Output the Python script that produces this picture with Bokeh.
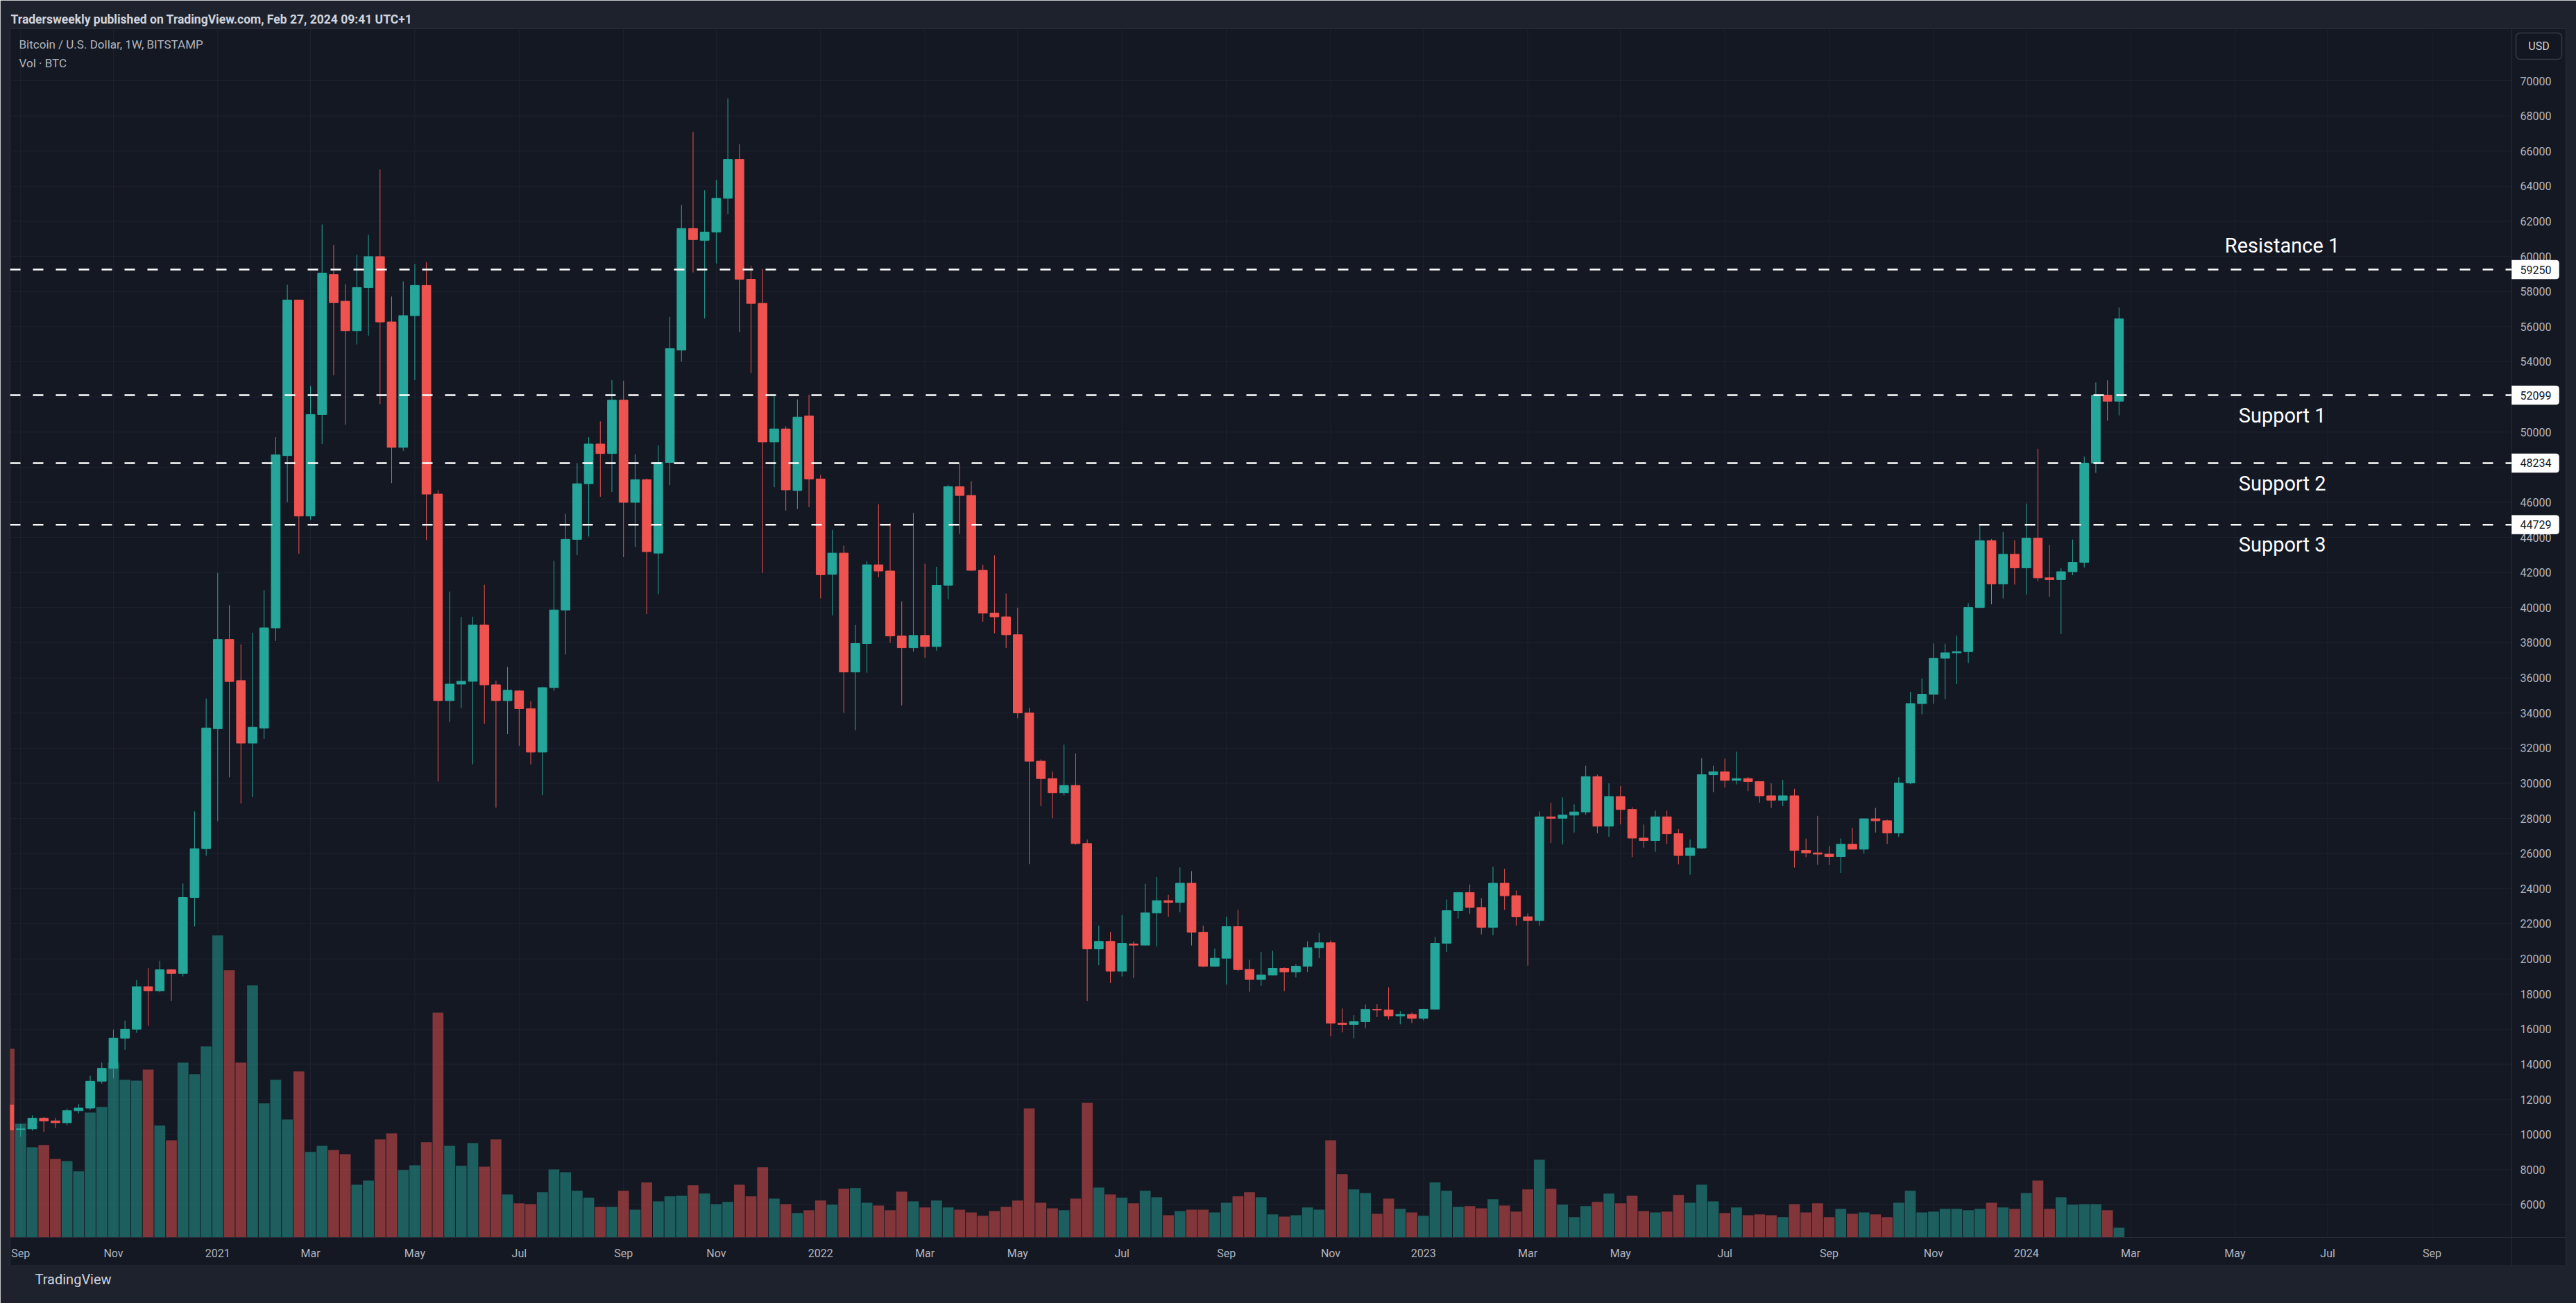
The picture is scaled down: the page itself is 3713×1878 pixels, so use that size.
from bokeh.plotting import figure
from bokeh.models import Range1d, LinearAxis, FixedTicker, Label, Title, Span, NumeralTickFormatter, ColumnDataSource
from bokeh.embed import file_html
from bokeh.resources import INLINE
from bokeh.core.properties import value

# ---------------- data (weekly bars, week 0 = 2020-08-31) ----------------
open_ = [11680, 10280, 10330, 10930, 10770, 10670, 11360, 11510, 13040, 13770,
         15490, 16000, 18420, 18190, 19380, 19170, 23500, 26280, 33110, 38190,
         35850, 32290, 33150, 38850, 48660, 57520, 45220, 51000, 58970, 57450,
         55770, 58230, 59990, 56270, 49130, 56630, 58350, 46470, 34710, 35650,
         35810, 39010, 35610, 34710, 35260, 34250, 31780, 35450, 39870, 43890,
         47060, 49320, 48780, 51820, 46000, 47290, 43110, 48270, 54670, 61590,
         60920, 61390, 63310, 65530, 58700, 57330, 49440, 50180, 46670, 50920,
         47330, 41900, 43110, 36340, 37960, 42440, 42090, 38390, 37720, 38420,
         37790, 41280, 46890, 46390, 42130, 39690, 39480, 38460, 34010, 31260,
         30270, 29460, 29880, 26570, 20570, 21000, 19300, 20850, 20790, 22620,
         23320, 23220, 24310, 21520, 19580, 20040, 21840, 19400, 18840, 19090,
         19470, 19260, 19580, 20640, 20920, 16340, 16270, 16430, 17130, 17090,
         16760, 16840, 16620, 17140, 20890, 22750, 23780, 22930, 21800, 24310,
         23600, 22400, 22190, 28090, 28010, 28190, 28370, 30380, 27560, 29250,
         28510, 26880, 26740, 28090, 27130, 25890, 26320, 30490, 30660, 30170,
         30270, 30100, 29290, 29040, 29290, 26180, 26040, 25970, 25830, 26530,
         26250, 27980, 27870, 27170, 30020, 34540, 35070, 37120, 37430, 37500,
         40010, 43820, 41350, 43040, 42270, 43960, 41700, 41600, 42050, 42580,
         48234, 52099, 51760]
high = [12090, 10600, 11100, 11000, 10950, 11490, 11730, 13350, 14100, 15970,
        16480, 18800, 19480, 19900, 19420, 24300, 28400, 34830, 41980, 40140,
        37920, 38580, 41000, 49710, 58380, 57520, 52640, 61820, 60650, 58420,
        60100, 61240, 64950, 57720, 58580, 59560, 59670, 46700, 40920, 39480,
        39480, 41310, 35850, 36630, 35300, 34680, 35500, 42680, 45340, 48230,
        49710, 50610, 52960, 52920, 48740, 47350, 49240, 56550, 62920, 67100,
        63770, 64360, 69000, 66390, 59480, 59280, 52060, 50330, 51860, 52130,
        47570, 44440, 43540, 39020, 42650, 45900, 44810, 40360, 45400, 42500,
        42330, 47000, 48200, 47200, 42440, 42980, 40800, 40000, 34300, 31360,
        30660, 32200, 31700, 26800, 21900, 21540, 22500, 21000, 24280, 24670,
        23650, 25210, 25000, 21900, 20580, 22400, 22800, 19950, 20390, 20460,
        19520, 19700, 21000, 21480, 21050, 17180, 16800, 17410, 17430, 18380,
        17030, 16940, 17170, 21260, 23380, 23810, 24240, 23460, 25250, 25130,
        23900, 22600, 28400, 28900, 29200, 28800, 31000, 30500, 30000, 29840,
        28640, 27650, 28450, 28440, 27400, 26800, 31430, 31000, 31400, 31800,
        30360, 30100, 30000, 30200, 29690, 26850, 28150, 26430, 26860, 27470,
        28000, 28600, 27930, 30350, 35200, 35970, 37970, 37950, 38400, 40250,
        44740, 43900, 44310, 43840, 45930, 49050, 43580, 42250, 43880, 48600,
        52820, 52950, 57090]
low = [9875, 9880, 10220, 10140, 10380, 10530, 11200, 11400, 12900, 13200,
       14830, 15800, 16200, 18100, 17600, 19000, 21850, 25880, 27840, 30340,
       28850, 29210, 32530, 38110, 46000, 43070, 45000, 49320, 53230, 50420,
       54990, 55490, 51590, 47100, 48930, 52960, 43850, 30100, 33500, 34280,
       31080, 33390, 28620, 32800, 32140, 31080, 29320, 35260, 37330, 43000,
       44050, 46320, 46590, 42880, 43460, 39640, 40770, 46980, 54010, 59090,
       56470, 59600, 62410, 55690, 53350, 41980, 46860, 45530, 45610, 45730,
       40530, 39560, 34010, 33020, 36300, 41730, 38000, 34440, 37500, 37150,
       37550, 40480, 44200, 42100, 39200, 38540, 37700, 33700, 25400, 28700,
       28020, 29300, 26500, 17600, 19640, 18630, 19000, 18910, 20760, 20710,
       22400, 22670, 20770, 19530, 19550, 18540, 19320, 18130, 18470, 19050,
       18170, 18950, 19250, 20050, 15600, 15820, 15480, 16050, 16690, 16550,
       16280, 16340, 16500, 17100, 20400, 22300, 22560, 21400, 21350, 22800,
       21900, 19620, 21900, 26600, 26520, 27200, 28200, 27150, 26950, 27660,
       25800, 26340, 26100, 26550, 25390, 24800, 26270, 29500, 29760, 29940,
       29550, 28900, 28600, 28700, 25200, 25800, 25360, 25350, 24900, 26370,
       26000, 27200, 26540, 26950, 29950, 33930, 34530, 34800, 35650, 36850,
       39990, 40200, 40530, 41320, 40750, 41500, 40620, 38490, 41850, 42290,
       47680, 50650, 50950]
close = [10260, 10330, 10930, 10770, 10670, 11360, 11510, 13040, 13770, 15490,
         16000, 18420, 18190, 19380, 19170, 23500, 26280, 33150, 38190, 35800,
         32290, 33190, 38850, 48700, 57520, 45220, 51000, 59050, 57370, 55770,
         58230, 59990, 56270, 49130, 56630, 58350, 46470, 34710, 35650, 35810,
         39010, 35610, 34710, 35300, 34250, 31780, 35450, 39870, 43890, 47060,
         49320, 48780, 51820, 46000, 47290, 43190, 48270, 54750, 61590, 60960,
         61390, 63310, 65530, 58700, 57330, 49440, 50180, 46710, 50850, 47330,
         41880, 43110, 36340, 37960, 42440, 42090, 38390, 37720, 38420, 37790,
         41280, 46890, 46390, 42130, 39690, 39480, 38460, 34010, 31260, 30270,
         29460, 29880, 26570, 20570, 21000, 19300, 20890, 20790, 22620, 23320,
         23220, 24310, 21520, 19580, 20040, 21840, 19400, 18840, 19090, 19470,
         19260, 19580, 20640, 20920, 16340, 16270, 16430, 17130, 17090, 16760,
         16840, 16620, 17140, 20890, 22750, 23780, 22930, 21800, 24310, 23600,
         22400, 22190, 28090, 28010, 28190, 28370, 30380, 27560, 29250, 28510,
         26880, 26740, 28090, 27130, 25890, 26320, 30490, 30660, 30170, 30270,
         30100, 29290, 29040, 29290, 26180, 26040, 25970, 25830, 26530, 26250,
         27980, 27870, 27170, 30020, 34540, 35070, 37120, 37430, 37500, 40010,
         43820, 41350, 43040, 42270, 43960, 41700, 41600, 42050, 42580, 48234,
         52099, 51760, 56450]
volume_k_btc = [68.0, 41.0, 32.5, 33.3, 28.3, 27.5, 23.8, 45.0, 47.0, 63.0,
                56.8, 56.5, 60.5, 40.3, 35.0, 63.0, 58.8, 68.8, 108.8, 96.3,
                63.0, 90.8, 48.3, 56.8, 42.5, 59.8, 30.8, 33.0, 31.5, 30.0,
                19.0, 20.5, 35.3, 37.5, 24.3, 26.0, 34.3, 81.0, 33.0, 25.8,
                34.0, 25.5, 35.3, 15.5, 12.3, 12.0, 16.3, 24.5, 23.5, 16.8,
                14.3, 11.0, 11.0, 16.8, 10.0, 19.8, 13.0, 14.8, 15.0, 18.8,
                15.8, 12.0, 12.8, 19.0, 14.8, 25.3, 14.0, 12.0, 8.8, 9.8,
                13.3, 11.8, 17.5, 17.8, 12.5, 11.5, 9.8, 16.5, 13.0, 10.8,
                13.3, 10.8, 10.0, 9.0, 7.8, 9.5, 11.0, 13.3, 46.5, 12.5,
                10.5, 9.8, 14.0, 48.5, 18.0, 15.5, 14.3, 12.3, 16.8, 14.5,
                8.0, 9.5, 10.0, 10.0, 9.0, 12.5, 14.8, 16.3, 14.5, 8.3,
                7.5, 8.0, 10.8, 10.0, 35.0, 22.8, 17.3, 16.0, 8.5, 14.0,
                10.3, 9.0, 7.8, 19.8, 16.8, 11.0, 11.3, 10.5, 13.8, 11.5,
                9.3, 17.3, 28.0, 17.5, 11.8, 7.3, 11.3, 12.8, 15.8, 12.3,
                15.0, 9.5, 9.0, 9.3, 15.3, 12.5, 19.0, 13.0, 8.8, 10.8,
                8.0, 8.3, 8.0, 7.3, 12.0, 9.0, 12.3, 7.3, 10.3, 8.5,
                9.0, 8.3, 7.3, 12.5, 16.8, 9.0, 9.3, 10.3, 10.3, 9.8,
                10.3, 12.5, 10.8, 10.3, 16.0, 20.5, 10.3, 14.5, 11.8, 12.0,
                12.0, 9.8, 3.5]

tick_weeks = [1, 9, 18, 26, 35, 44, 53, 61, 70, 79, 87, 96, 105, 114, 122,
              131, 139, 148, 157, 166, 174, 183, 192, 200, 209]
tick_labels = ["Sep", "Nov", "2021", "Mar", "May", "Jul", "Sep", "Nov", "2022",
               "Mar", "May", "Jul", "Sep", "Nov", "2023", "Mar", "May", "Jul",
               "Sep", "Nov", "2024", "Mar", "May", "Jul", "Sep"]
price_ticks = list(range(6000, 70001, 2000))
level_values = [59250, 52099, 48234, 44729]
level_names = ["Resistance 1", "Support 1", "Support 2", "Support 3"]
level_text_offsets = [-35, 29, 30, 29]

# ---------------- styling constants ----------------
GREEN = "#26a69a"
RED = "#ef5350"
BG = "#141823"
OUTER = "#1e222d"
LINE = "#2a2e39"
GRID = "#1f2330"
AXIS_TXT = "#b2b5be"
FONT = "Roboto"

X0, X1 = 0.0856, 220.55          # visible week range (incl. price-scale strip)
Y0, Y1 = 2523, 72963             # visible price range (incl. time-scale strip)
PANE_X = 215.88                  # right edge of the chart pane (weeks)
PANE_Y = 4143                    # bottom edge of the chart pane (price)
LABEL_X = 196.08                 # centre of level names
WK_PX = 16.71                    # pixels per week
PX_PRICE = 1 / 0.0253125         # price per pixel

n = len(close)
weeks = list(range(n))
colors = [GREEN if c >= o else RED for o, c in zip(open_, close)]
src = ColumnDataSource(dict(
    x=weeks, o=open_, h=high, l=low, c=close,
    top=[max(o, c) for o, c in zip(open_, close)],
    bot=[min(o, c) for o, c in zip(open_, close)],
    vol=volume_k_btc, color=colors,
))

p = figure(width=3713, height=1878, output_backend="svg", toolbar_location=None,
           x_range=Range1d(X0, X1), y_range=Range1d(Y0, Y1),
           x_axis_location=None, y_axis_location=None,
           min_border_left=14, min_border_right=15, min_border_top=41, min_border_bottom=54,
           background_fill_color=BG, border_fill_color=OUTER,
           outline_line_color=LINE, outline_line_width=1)
p.grid.visible = False
p.extra_y_ranges = {"vol": Range1d(-10.25, 435.5)}

# title (publication line)
p.title.text = "Tradersweekly published on TradingView.com, Feb 27, 2024 09:41 UTC+1"
p.title.align = "left"
p.title.offset = 1
p.title.text_font = FONT
p.title.text_font_size = "17.5px"
p.title.text_font_style = "bold"
p.title.text_color = "#d1d4dc"
p.title.standoff = 8

# grid lines (within chart pane only)
p.segment(x0=[X0] * len(price_ticks), x1=[PANE_X] * len(price_ticks), y0=price_ticks, y1=price_ticks,
          line_color=GRID, line_width=1)
p.segment(x0=tick_weeks, x1=tick_weeks, y0=[PANE_Y] * len(tick_weeks), y1=[Y1] * len(tick_weeks),
          line_color=GRID, line_width=1)

# volume
p.vbar(x="x", top="vol", bottom=0, width=0.94, source=src, fill_color="color", fill_alpha=0.5,
       line_color=None, y_range_name="vol")

# candles
p.segment(x0="x", x1="x", y0="h", y1="l", source=src, line_color="color", line_width=1)
p.vbar(x="x", top="top", bottom="bot", width=0.76, source=src, fill_color="color",
       line_color="color", line_width=1)

# pane separators
p.add_layout(Span(location=PANE_X, dimension="height", line_color=LINE, line_width=1))
p.add_layout(Span(location=PANE_Y, dimension="width", line_color=LINE, line_width=1))

# support / resistance lines
p.segment(x0=[X0] * 4, x1=[PANE_X] * 4, y0=level_values, y1=level_values,
          line_color="white", line_width=2.5, line_dash="15 18")
p.text(x=[LABEL_X] * 4, y=level_values, text=level_names, y_offset=level_text_offsets,
       text_align="center", text_baseline="middle", text_color="white",
       text_font=value(FONT), text_font_size="29px")

# axes
yax = LinearAxis(ticker=FixedTicker(ticks=price_ticks), formatter=NumeralTickFormatter(format="0"),
                 major_label_standoff=-66, axis_line_color=None, major_tick_line_color=None,
                 minor_tick_line_color=None, major_tick_out=0, major_tick_in=0,
                 major_label_text_color=AXIS_TXT, major_label_text_font=FONT,
                 major_label_text_font_size="16px")
p.add_layout(yax, "right")
xax = LinearAxis(ticker=FixedTicker(ticks=tick_weeks),
                 major_label_overrides={w: t for w, t in zip(tick_weeks, tick_labels)},
                 major_label_standoff=-28, axis_line_color=None, major_tick_line_color=None,
                 minor_tick_line_color=None, major_tick_out=0, major_tick_in=0,
                 major_label_text_color=AXIS_TXT, major_label_text_font=FONT,
                 major_label_text_font_size="16px")
p.add_layout(xax, "below")

# price-line value boxes on the scale (drawn above the axis labels)
box_h = 13.5 * PX_PRICE
p.quad(left=[PANE_X] * 4, right=[PANE_X + 68 / WK_PX] * 4,
       bottom=[v - box_h for v in level_values], top=[v + box_h for v in level_values],
       fill_color="white", line_color="white", line_width=0.5, level="overlay",
       border_radius=[0, 4, 4, 0])
p.text(x=[PANE_X] * 4, y=level_values, text=[str(v) for v in level_values], x_offset=12,
       text_align="left", text_baseline="middle", text_color="#131722",
       text_font=value(FONT), text_font_size="16px", level="overlay")

# currency button
usd_l, usd_r = (3626 - 12.57) / WK_PX, (3692 - 12.57) / WK_PX
usd_t, usd_b = 70000 + (116 - 47) * PX_PRICE, 70000 + (116 - 85) * PX_PRICE
p.quad(left=[usd_l], right=[usd_r], bottom=[usd_b], top=[usd_t], fill_color="#131722",
       line_color="#363a45", line_width=1.5, border_radius=6, level="overlay")
p.text(x=[(usd_l + usd_r) / 2], y=[(usd_t + usd_b) / 2], text=["USD"], text_align="center",
       text_baseline="middle", text_color="#d1d4dc", text_font=value(FONT),
       text_font_size="16px", level="overlay")

# legend lines
p.add_layout(Label(x=13, y=1761, x_units="screen", y_units="screen",
                   text="Bitcoin / U.S. Dollar, 1W, BITSTAMP", text_baseline="middle",
                   text_color=AXIS_TXT, text_font=FONT, text_font_size="17px"))
p.add_layout(Label(x=13, y=1734, x_units="screen", y_units="screen",
                   text="Vol · BTC", text_baseline="middle",
                   text_color=AXIS_TXT, text_font=FONT, text_font_size="17px"))

# footer
p.add_layout(Title(text="TradingView", align="left", offset=36, text_font=FONT,
                   text_font_size="20px", text_color="#d1d4dc", text_font_style="normal",
                   standoff=10), "below")

open("out.html", "w").write(file_html(p, INLINE))
